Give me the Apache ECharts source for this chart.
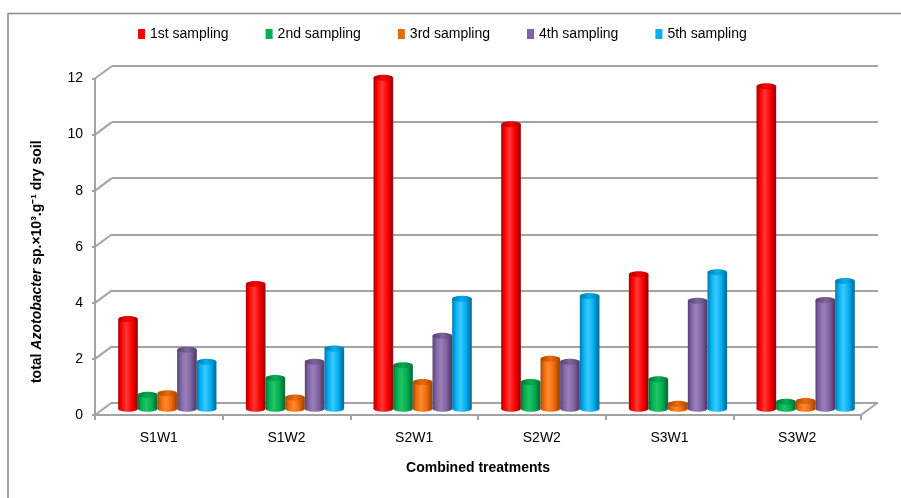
<!DOCTYPE html>
<html>
<head>
<meta charset="utf-8">
<script src="https://cdn.jsdelivr.net/npm/echarts@6/dist/echarts.min.js"></script>
<style>
  html, body { margin: 0; padding: 0; background: #fff; }
  #chart { width: 901px; height: 498px; }
</style>
</head>
<body>
<div id="chart"></div>
<script>
// Treatments on the category axis
const categories = ['S1W1', 'S1W2', 'S2W1', 'S2W2', 'S3W1', 'S3W2'];
// Azotobacter counts per sampling date
const sampling1 = [3.2, 4.45, 11.8, 10.15, 4.8, 11.5];
const sampling2 = [0.5, 1.1, 1.55, 0.95, 1.05, 0.25];
const sampling3 = [0.55, 0.4, 0.95, 1.78, 0.18, 0.28];
const sampling4 = [2.1, 1.68, 2.6, 1.68, 3.85, 3.88];
const sampling5 = [1.68, 2.15, 3.92, 4.02, 4.87, 4.56];
const seriesNames = ['1st sampling', '2nd sampling', '3rd sampling', '4th sampling', '5th sampling'];
const yTicks = [0, 2, 4, 6, 8, 10, 12];

// Depth of the pseudo-3D box (front plane -> back wall)
const DX = 17, DY = -12.5;
const GRID_LEFT = 95, GRID_TOP = 78.5, GRID_W = 766, GRID_H = 336.5;
const AXIS_GRAY = '#a3a3a3';

const palettes = [
  { dark: '#a80000', base: '#ff0000', light: '#ff3a3a', legend: '#ff0000' },
  { dark: '#00733a', base: '#00b050', light: '#1fc466', legend: '#00b050' },
  { dark: '#a94a00', base: '#ee6a0c', light: '#ff8a30', legend: '#e46c0a' },
  { dark: '#55406f', base: '#8064a2', light: '#9a80bb', legend: '#8064a2' },
  { dark: '#0077a8', base: '#00b0f0', light: '#3cc8ff', legend: '#00b0f0' }
];
const seriesValues = [sampling1, sampling2, sampling3, sampling4, sampling5];

function bodyGradient(p) {
  return new echarts.graphic.LinearGradient(0, 0, 1, 0, [
    { offset: 0, color: p.dark },
    { offset: 0.18, color: p.base },
    { offset: 0.42, color: p.light },
    { offset: 0.7, color: p.base },
    { offset: 0.92, color: p.dark },
    { offset: 1, color: p.dark }
  ]);
}
function topGradient(p) {
  return new echarts.graphic.LinearGradient(0, 0, 1, 0, [
    { offset: 0, color: p.dark },
    { offset: 0.5, color: p.base },
    { offset: 1, color: p.dark }
  ]);
}

// Cylinder drawn halfway into the box depth
function cylinderRenderer(idx) {
  const p = palettes[idx];
  return function (params, api) {
    const cat = api.value(0);
    const v = api.value(1);
    const band = api.size([1, 0])[0];
    const w = band * 0.154;
    const topPt = api.coord([cat, v]);
    const basePt = api.coord([cat, 0]);
    const cx = topPt[0] + DX / 2 + (idx - 2) * w;
    const top = topPt[1] + DY / 2;
    const base = basePt[1] + DY / 2;
    const ry = 3;
    return {
      type: 'group',
      children: [
        { type: 'ellipse', shape: { cx: cx, cy: base, rx: w / 2, ry: ry },
          style: { fill: bodyGradient(p) } },
        { type: 'rect', shape: { x: cx - w / 2, y: top, width: w, height: Math.max(base - top, 0) },
          style: { fill: bodyGradient(p) } },
        { type: 'ellipse', shape: { cx: cx, cy: top, rx: w / 2, ry: ry },
          style: { fill: topGradient(p) } }
      ]
    };
  };
}

// Side-wall and floor edges connecting the front axis to the back wall
function depthEdges(params, api) {
  const v = api.value(1);
  const y = api.coord([0, v])[1];
  const x0 = params.coordSys.x;
  const children = [
    { type: 'line', shape: { x1: x0, y1: y, x2: x0 + DX, y2: y + DY },
      style: { stroke: AXIS_GRAY, lineWidth: 2 } }
  ];
  if (v === 0) {
    const x1 = x0 + params.coordSys.width;
    children.push({ type: 'line', shape: { x1: x1, y1: y, x2: x1 + DX, y2: y + DY },
      style: { stroke: AXIS_GRAY, lineWidth: 2 } });
  }
  return { type: 'group', children: children };
}

const barSeries = seriesValues.map(function (vals, i) {
  return {
    name: seriesNames[i],
    type: 'custom',
    xAxisIndex: 0,
    yAxisIndex: 0,
    itemStyle: { color: palettes[i].legend },
    renderItem: cylinderRenderer(i),
    encode: { x: 0, y: 1 },
    data: vals.map(function (v, c) { return [c, v]; }),
    z: 3
  };
});

const chart = echarts.init(document.getElementById('chart'), null, { renderer: 'canvas' });
chart.setOption({
  animation: false,
  backgroundColor: '#ffffff',
  textStyle: { fontFamily: 'Liberation Sans, Arial, sans-serif' },
  graphic: [
    { type: 'rect', shape: { x: 8, y: 13.5, width: 1200, height: 1000 },
      style: { fill: 'none', stroke: '#8a8a8a', lineWidth: 1.5 }, z: 0 }
  ],
  legend: {
    data: seriesNames,
    top: 22,
    left: 133,
    icon: 'rect',
    itemWidth: 7,
    itemHeight: 10,
    itemGap: 37,
    textStyle: { fontSize: 14, color: '#000', fontFamily: 'Liberation Sans, Arial, sans-serif' }
  },
  grid: [
    { left: GRID_LEFT, top: GRID_TOP, width: GRID_W, height: GRID_H },
    { left: GRID_LEFT + DX, top: GRID_TOP + DY, width: GRID_W, height: GRID_H }
  ],
  xAxis: [
    {
      gridIndex: 0,
      type: 'category',
      data: categories,
      name: 'Combined treatments',
      nameLocation: 'middle',
      nameGap: 46,
      nameTextStyle: { fontSize: 14, fontWeight: 'bold', color: '#000' },
      axisLine: { show: true, lineStyle: { color: AXIS_GRAY, width: 2 } },
      axisTick: { show: true, interval: 0, length: 5, lineStyle: { color: AXIS_GRAY, width: 2 } },
      axisLabel: { fontSize: 14, color: '#000', margin: 16 },
      splitLine: { show: false }
    },
    {
      gridIndex: 1,
      type: 'category',
      data: categories,
      axisLine: { show: false },
      axisTick: { show: false },
      axisLabel: { show: false },
      splitLine: { show: false }
    }
  ],
  yAxis: [
    {
      gridIndex: 0,
      type: 'value',
      min: 0,
      max: 12,
      interval: 2,
      name: '{b|total }{i|Azotobacter}{b| sp.×10³.g⁻¹ dry soil}',
      nameLocation: 'middle',
      nameRotate: 90,
      nameGap: 51,
      nameTextStyle: {
        padding: [0, 30, 0, 0],
        rich: {
          b: { fontSize: 14, fontWeight: 'bold', color: '#000' },
          i: { fontSize: 14, fontWeight: 'bold', fontStyle: 'italic', color: '#000' }
        }
      },
      axisLine: { show: true, lineStyle: { color: AXIS_GRAY, width: 2 } },
      axisTick: { show: true, length: 3, lineStyle: { color: AXIS_GRAY, width: 2 } },
      axisLabel: { fontSize: 14, color: '#000', margin: 12 },
      splitLine: { show: false }
    },
    {
      gridIndex: 1,
      type: 'value',
      min: 0,
      max: 12,
      interval: 2,
      axisLine: { show: false },
      axisTick: { show: false },
      axisLabel: { show: false },
      splitLine: { show: true, lineStyle: { color: AXIS_GRAY, width: 2 } }
    }
  ],
  series: [
    {
      name: 'edges',
      type: 'custom',
      xAxisIndex: 0,
      yAxisIndex: 0,
      renderItem: depthEdges,
      encode: { x: 0, y: 1 },
      data: yTicks.map(function (t) { return [0, t]; }),
      silent: true,
      z: 1
    }
  ].concat(barSeries)
});
</script>
</body>
</html>
